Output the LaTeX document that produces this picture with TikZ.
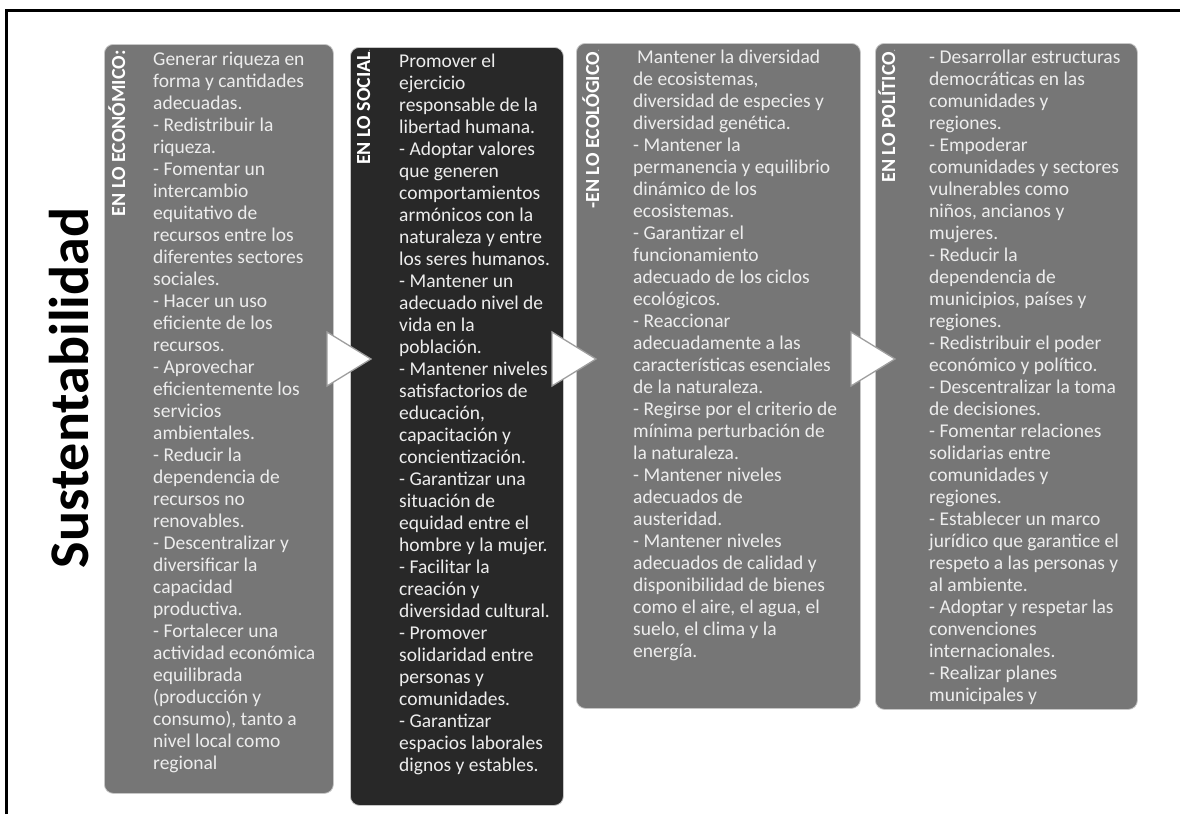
\documentclass[tikz,border=0pt]{standalone}
\usepackage{fontspec}
\setmainfont{Carlito}
\definecolor{boxgray}{HTML}{767676}
\definecolor{boxdark}{HTML}{282828}
\definecolor{txt}{HTML}{EDEDED}
\begin{document}
\begin{tikzpicture}[x=1pt,y=-1pt,
  box/.style={draw=black!22, line width=0.8pt, rounded corners=9pt, inner sep=0pt, anchor=north west},
  body/.style={anchor=north west, inner sep=0pt, align=left, text=txt, font=\fontsize{19.5}{22}\selectfont},
  lab/.style={rotate=90, anchor=base east, inner sep=0pt, text=white, font=\bfseries\fontsize{20}{24}\selectfont},
  chev/.style={fill=white, draw=black!38, line width=1.3pt, line join=miter}
]
\useasboundingbox (0,0) rectangle (1180,814);
\fill[white] (0,0) rectangle (1180,814);
\draw[line width=3pt, line join=miter] (6.5,814) -- (6.5,10) -- (1180,10);

\node[rotate=90, anchor=base, inner sep=0pt, font=\bfseries\fontsize{56}{60}\selectfont] (title) at (88,388) {Sustentabilidad};

\node[box, fill=boxgray, minimum width=229pt, minimum height=749pt] (eco) at (104,44) {};
\node[box, fill=boxdark, minimum width=213pt, minimum height=758pt] (soc) at (350,47) {};
\node[box, fill=boxgray, minimum width=284pt, minimum height=665pt] (ecol) at (576,43) {};
\node[box, fill=boxgray, minimum width=262pt, minimum height=666pt] (pol) at (875,43) {};

\node[lab] (leco) at (125,50) {EN LO ECONÓMICO:};
\node[lab] (lsoc) at (370,50) {EN LO SOCIAL{\fontsize{6}{6}\selectfont .}};
\node[lab] (lecol) at (599,50) {-EN LO ECOLÓGICO{\fontsize{6}{6}\selectfont .}};
\node[lab] (lpol) at (895,50) {EN LO POLÍTICO{\fontsize{6}{6}\selectfont .}};

\node[body] (teco) at (153,49.6) {\strut Generar riqueza en\\forma y cantidades\\adecuadas.\\- Redistribuir la\\riqueza.\\- Fomentar un\\intercambio\\equitativo de\\recursos entre los\\diferentes sectores\\sociales.\\- Hacer un uso\\eficiente de los\\recursos.\\- Aprovechar\\eficientemente los\\servicios\\ambientales.\\- Reducir la\\dependencia de\\recursos no\\renovables.\\- Descentralizar y\\diversificar la\\capacidad\\productiva.\\- Fortalecer una\\actividad económica\\equilibrada\\(producción y\\consumo), tanto a\\nivel local como\\regional};

\node[body] (tsoc) at (399,51.6) {\strut Promover el\\ejercicio\\responsable de la\\libertad humana.\\- Adoptar valores\\que generen\\comportamientos\\armónicos con la\\naturaleza y entre\\los seres humanos.\\- Mantener un\\adecuado nivel de\\vida en la\\población.\\- Mantener niveles\\satisfactorios de\\educación,\\capacitación y\\concientización.\\- Garantizar una\\situación de\\equidad entre el\\hombre y la mujer.\\- Facilitar la\\creación y\\diversidad cultural.\\- Promover\\solidaridad entre\\personas y\\comunidades.\\- Garantizar\\espacios laborales\\dignos y estables.};

\node[body] (tecol) at (633,47.6) {\strut\hspace{4pt}Mantener la diversidad\\de ecosistemas,\\diversidad de especies y\\diversidad genética.\\- Mantener la\\permanencia y equilibrio\\dinámico de los\\ecosistemas.\\- Garantizar el\\funcionamiento\\adecuado de los ciclos\\ecológicos.\\- Reaccionar\\adecuadamente a las\\características esenciales\\de la naturaleza.\\- Regirse por el criterio de\\mínima perturbación de\\la naturaleza.\\- Mantener niveles\\adecuados de\\austeridad.\\- Mantener niveles\\adecuados de calidad y\\disponibilidad de bienes\\como el aire, el agua, el\\suelo, el clima y la\\energía.};

\node[body] (tpol) at (929,47.6) {\strut - Desarrollar estructuras\\democráticas en las\\comunidades y\\regiones.\\- Empoderar\\comunidades y sectores\\vulnerables como\\niños, ancianos y\\mujeres.\\- Reducir la\\dependencia de\\municipios, países y\\regiones.\\- Redistribuir el poder\\económico y político.\\- Descentralizar la toma\\de decisiones.\\- Fomentar relaciones\\solidarias entre\\comunidades y\\regiones.\\- Establecer un marco\\jurídico que garantice el\\respeto a las personas y\\al ambiente.\\- Adoptar y respetar las\\convenciones\\internacionales.\\- Realizar planes\\municipales y};

\path[chev] (327,332) -- (371,359) -- (327,386) -- cycle;
\path[chev] (552,332) -- (596,359) -- (552,386) -- cycle;
\path[chev] (851,332) -- (895,359) -- (851,386) -- cycle;
\end{tikzpicture}
\end{document}
